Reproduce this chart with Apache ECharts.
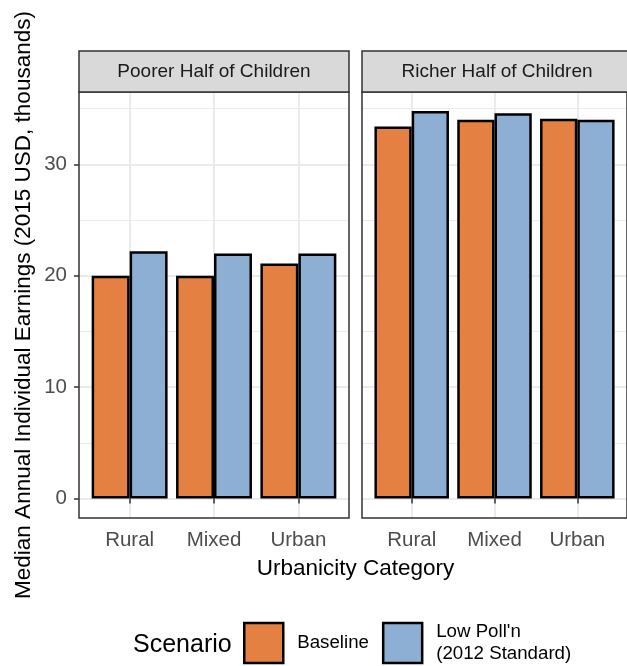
<!DOCTYPE html>
<html>
<head>
<meta charset="utf-8">
<script src="https://cdn.jsdelivr.net/npm/echarts@6/dist/echarts.min.js"></script>
<style>
  html, body { margin: 0; background: #fff; }
  #chart { width: 627px; height: 666px; }
</style>
</head>
<body>
<div id="chart"></div>
<script>
// data (thousands of 2015 USD)
const categories = ['Rural', 'Mixed', 'Urban'];
const panels = ['Poorer Half of Children', 'Richer Half of Children'];
const scenarios = ['Baseline', "Low Poll'n\n(2012 Standard)"];
const poorerBaseline = [20.0, 20.0, 21.1];
const poorerLowPoll = [22.2, 22.0, 22.0];
const richerBaseline = [33.4, 34.0, 34.1];
const richerLowPoll = [34.8, 34.6, 34.0];
const yTicks = [0, 10, 20, 30];
const colors = ['#E38042', '#8DAFD3'];

const font = 'Liberation Sans, Arial, sans-serif';
const panelLeft = [79, 362];
const panelW = 270;
const panelTop = 92;
const panelH = 426;

// category i sits at x = i + 1 on a value axis from 0.4 to 3.6 (ggplot discrete padding)
const toPoints = vals => vals.map((v, i) => [i + 1, v]);

const chart = echarts.init(document.getElementById('chart'));

const grids = panelLeft.map(left => ({
  left: left,
  top: panelTop,
  width: panelW,
  height: panelH,
  show: true,
  backgroundColor: 'transparent',
  borderColor: '#333333',
  borderWidth: 1.5,
  z: 10
}));

const xAxes = panelLeft.map((left, i) => ({
  gridIndex: i,
  type: 'value',
  min: 0.4,
  max: 3.6,
  splitNumber: 3,
  axisLine: { show: false },
  axisTick: {
    show: true,
    length: 5,
    customValues: [1, 2, 3],
    lineStyle: { color: '#333333', width: 1.5 }
  },
  axisLabel: {
    customValues: [1, 2, 3],
    formatter: v => categories[Math.round(v) - 1] || '',
    fontFamily: font,
    fontSize: 20.5,
    color: '#4D4D4D',
    margin: 12
  },
  splitLine: { show: true, lineStyle: { color: '#EBEBEB', width: 2 } }
}));

const yAxes = panelLeft.map((left, i) => ({
  gridIndex: i,
  type: 'value',
  min: -1.74,
  max: 36.5,
  axisLine: { show: false },
  axisTick: {
    show: i === 0,
    length: 5,
    customValues: yTicks,
    lineStyle: { color: '#333333', width: 1.5 }
  },
  axisLabel: {
    show: i === 0,
    customValues: yTicks,
    fontFamily: font,
    fontSize: 20.5,
    color: '#4D4D4D',
    margin: 12
  },
  splitLine: { show: true, lineStyle: { color: '#EBEBEB', width: 2 } },
  minorTick: { show: false, splitNumber: 2 },
  minorSplitLine: { show: true, lineStyle: { color: '#EBEBEB', width: 1 } },
  name: i === 0 ? 'Median Annual Individual Earnings (2015 USD, thousands)' : '',
  nameLocation: 'middle',
  nameGap: 44,
  nameTextStyle: { fontFamily: font, fontSize: 22.5, color: '#000000' }
}));

function barSeries(name, vals, idx, color) {
  return {
    name: name,
    type: 'bar',
    xAxisIndex: idx,
    yAxisIndex: idx,
    data: toPoints(vals),
    barGap: '0%',
    barCategoryGap: '10%',
    itemStyle: { color: color, borderColor: '#000000', borderWidth: 2.5 },
    z: 3
  };
}

const series = [
  barSeries(scenarios[0], poorerBaseline, 0, colors[0]),
  barSeries(scenarios[1], poorerLowPoll, 0, colors[1]),
  barSeries(scenarios[0], richerBaseline, 1, colors[0]),
  barSeries(scenarios[1], richerLowPoll, 1, colors[1])
];

// facet strips and free text
const graphics = [];
panelLeft.forEach((left, i) => {
  graphics.push({
    type: 'rect',
    z: 20,
    shape: { x: left, y: 51, width: panelW, height: 41 },
    style: { fill: '#D9D9D9', stroke: '#333333', lineWidth: 1.5 }
  });
  graphics.push({
    type: 'text',
    z: 21,
    style: {
      x: left + panelW / 2, y: 72,
      text: panels[i],
      fontFamily: font, fontSize: 19, fill: '#1A1A1A',
      align: 'center', verticalAlign: 'middle'
    }
  });
});
graphics.push({
  type: 'text',
  style: {
    x: (panelLeft[0] + panelLeft[1] + panelW) / 2, y: 569,
    text: 'Urbanicity Category',
    fontFamily: font, fontSize: 22.5, fill: '#000000',
    align: 'center', verticalAlign: 'middle'
  }
});
graphics.push({
  type: 'text',
  style: {
    x: 133, y: 645,
    text: 'Scenario',
    fontFamily: font, fontSize: 25, fill: '#000000',
    align: 'left', verticalAlign: 'middle'
  }
});

chart.setOption({
  animation: false,
  backgroundColor: '#ffffff',
  grid: grids,
  xAxis: xAxes,
  yAxis: yAxes,
  series: series,
  graphic: graphics,
  legend: {
    data: scenarios,
    left: 243,
    top: 617.5,
    padding: 0,
    icon: 'rect',
    itemWidth: 39,
    itemHeight: 40,
    itemGap: 13,
    selectedMode: false,
    itemStyle: { borderColor: '#000000', borderWidth: 2.5 },
    textStyle: {
      fontFamily: font,
      fontSize: 18.7,
      color: '#000000',
      lineHeight: 22,
      padding: [7, 0, 0, 9]
    }
  }
});
</script>
</body>
</html>
